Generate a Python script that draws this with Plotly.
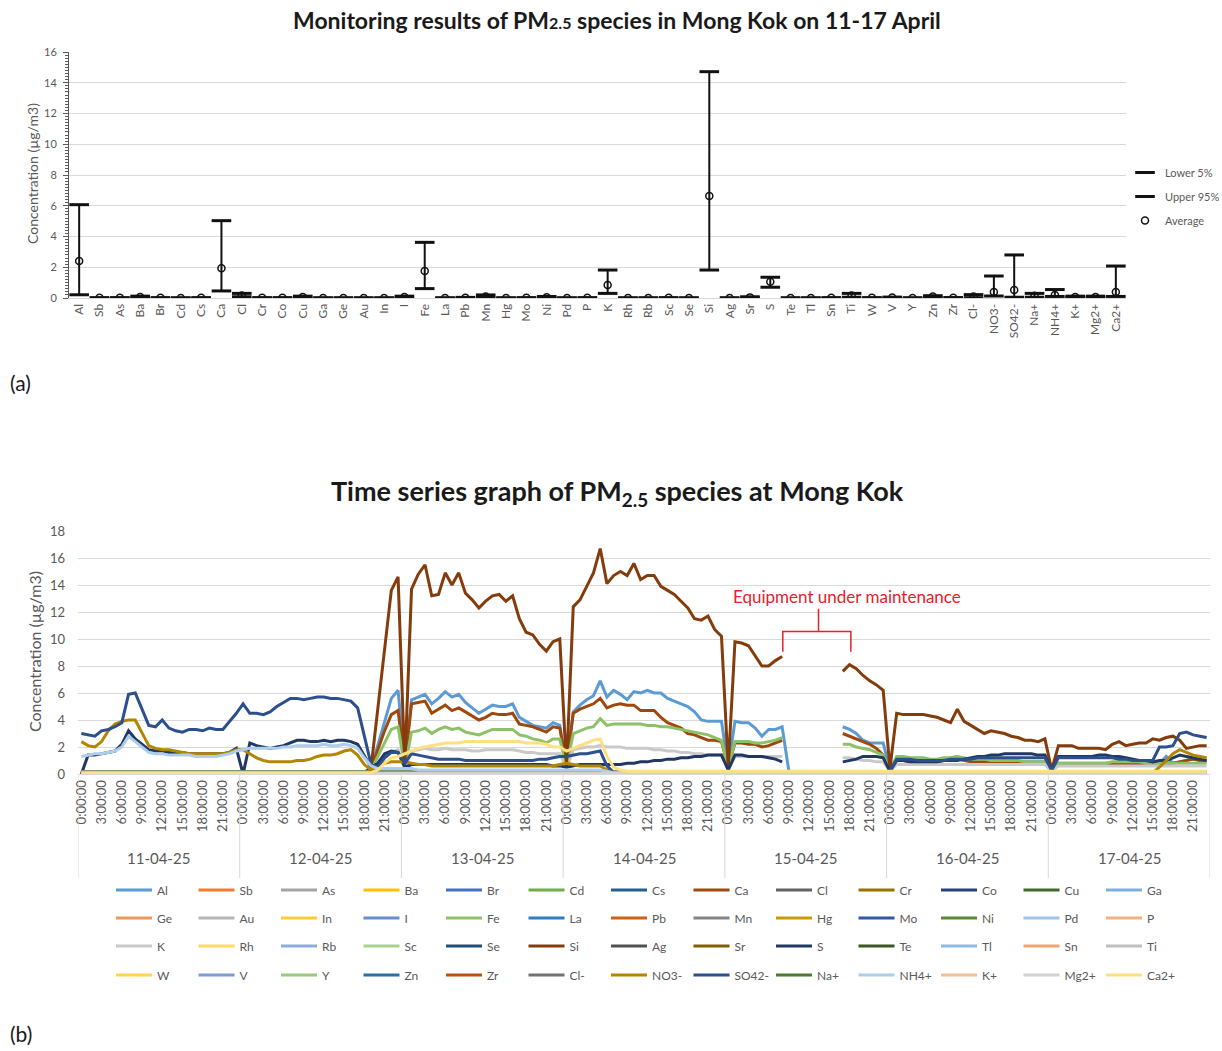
import plotly.graph_objects as go

# ---------------------------------------------------------------------------
# (a) Monitoring results: lower 5 %, upper 95 % and average per species
# ---------------------------------------------------------------------------
SPECIES = ["Al", "Sb", "As", "Ba", "Br", "Cd", "Cs", "Ca", "Cl", "Cr", "Co", "Cu", "Ga",
           "Ge", "Au", "In", "I", "Fe", "La", "Pb", "Mn", "Hg", "Mo", "Ni", "Pd", "P",
           "K", "Rh", "Rb", "Sc", "Se", "Si", "Ag", "Sr", "S", "Te", "Tl", "Sn", "Ti",
           "W", "V", "Y", "Zn", "Zr", "Cl-", "NO3-", "SO42-", "Na+", "NH4+", "K+", "Mg2+", "Ca2+"]

LOWER_5 = [0.21, 0.0, 0.0, 0.03, 0.0, 0.0, 0.0, 0.46, 0.08, 0.0, 0.0, 0.02, 0.0,
           0.0, 0.0, 0.0, 0.02, 0.61, 0.0, 0.0, 0.04, 0.0, 0.0, 0.02, 0.0, 0.0,
           0.30, 0.0, 0.0, 0.0, 0.0, 1.82, 0.0, 0.01, 0.70, 0.0, 0.0, 0.0, 0.05,
           0.0, 0.01, 0.0, 0.04, 0.0, 0.02, 0.13, 0.05, 0.05, 0.10, 0.03, 0.03, 0.10]

UPPER_95 = [6.07, 0.02, 0.02, 0.12, 0.02, 0.01, 0.02, 5.03, 0.30, 0.02, 0.02, 0.12, 0.01,
            0.01, 0.01, 0.01, 0.12, 3.62, 0.01, 0.04, 0.20, 0.01, 0.02, 0.10, 0.01, 0.02,
            1.82, 0.01, 0.01, 0.02, 0.01, 14.72, 0.01, 0.08, 1.35, 0.01, 0.01, 0.02, 0.30,
            0.02, 0.06, 0.01, 0.15, 0.03, 0.22, 1.43, 2.80, 0.30, 0.55, 0.12, 0.12, 2.08]

AVERAGE = [2.40, 0.01, 0.01, 0.06, 0.01, 0.0, 0.01, 1.93, 0.17, 0.01, 0.01, 0.06, 0.0,
           0.0, 0.0, 0.0, 0.06, 1.76, 0.0, 0.02, 0.10, 0.0, 0.01, 0.05, 0.0, 0.01,
           0.85, 0.0, 0.0, 0.01, 0.0, 6.63, 0.0, 0.04, 1.06, 0.0, 0.0, 0.01, 0.17,
           0.01, 0.03, 0.0, 0.09, 0.01, 0.10, 0.39, 0.52, 0.15, 0.20, 0.06, 0.06, 0.39]

# ---------------------------------------------------------------------------
# (b) Hourly time series, 11-04-25 0:00 to 17-04-25 23:00 (168 hours)
# ---------------------------------------------------------------------------
DAYS = ["11-04-25", "12-04-25", "13-04-25", "14-04-25", "15-04-25", "16-04-25", "17-04-25"]
HOUR_TICKS = ["0:00:00", "3:00:00", "6:00:00", "9:00:00",
              "12:00:00", "15:00:00", "18:00:00", "21:00:00"]

SI = ([0.1] * 24 +
      [0.1] * 19 + [0.5, 4.8, 9.2, 13.6, 14.6] +
      [0.6, 13.7, 14.8, 15.5, 13.2, 13.3, 14.9, 14.0, 14.9, 13.4, 12.9, 12.3,
       12.8, 13.2, 13.3, 12.8, 13.2, 11.5, 10.5, 10.3, 9.6, 9.1, 9.8, 10.0] +
      [0.5, 12.4, 12.9, 13.9, 14.9, 16.7, 14.1, 14.7, 15.0, 14.7, 15.6, 14.4,
       14.7, 14.7, 13.9, 13.6, 13.3, 12.8, 12.3, 11.5, 11.4, 11.7, 10.7, 10.2] +
      [0.5, 9.8, 9.7, 9.5, 8.7, 8.0, 8.0, 8.4, 8.7] + [None] * 8 +
      [7.6, 8.1, 7.8, 7.3, 6.9, 6.6, 6.2] +
      [0.4, 4.5, 4.4, 4.4, 4.4, 4.4, 4.3, 4.2, 4.0, 3.8, 4.8, 3.9,
       3.6, 3.3, 3.0, 3.2, 3.1, 3.0, 2.8, 2.7, 2.5, 2.5, 2.4, 2.6] +
      [0.3, 2.1, 2.1, 2.1, 1.9, 1.9, 1.9, 1.9, 1.8, 2.2, 2.4, 2.1,
       2.2, 2.3, 2.3, 2.6, 2.5, 2.7, 2.8, 2.5, 1.9, 2.0, 2.1, 2.1])

AL = ([0.1] * 24 +
      [0.1] * 19 + [0.4, 2.2, 4.0, 5.6, 6.2] +
      [0.8, 5.5, 5.7, 5.9, 5.2, 5.6, 6.1, 5.7, 5.9, 5.3, 4.9, 4.5,
       4.8, 5.1, 5.0, 5.0, 5.2, 4.2, 3.9, 3.6, 3.5, 3.4, 3.8, 3.6] +
      [0.6, 4.6, 5.1, 5.5, 5.8, 6.9, 5.7, 6.2, 5.9, 5.5, 6.1, 6.0,
       6.2, 6.0, 6.0, 5.6, 5.4, 5.2, 5.0, 4.6, 4.0, 3.9, 3.9, 3.9] +
      [0.5, 3.9, 3.8, 3.8, 3.4, 2.8, 3.3, 3.3, 3.5, 0.2] + [None] * 7 +
      [3.5, 3.3, 3.0, 2.5, 2.3, 2.3, 2.3] +
      [0.3, 1.2, 1.2, 1.1, 1.1, 1.0, 1.0, 1.0, 1.1, 1.2, 1.3, 1.1,
       1.0, 1.0, 1.0, 1.0, 1.0, 1.0, 0.9, 0.9, 0.9, 0.9, 0.9, 0.9] +
      [0.2, 0.8, 0.8, 0.8, 0.8, 0.8, 0.8, 0.8, 0.8, 0.8, 0.8, 0.8,
       0.7, 0.7, 0.7, 0.7, 0.8, 1.3, 0.8, 0.9, 1.0, 1.1, 1.0, 0.9])

CA = ([0.1] * 24 +
      [0.1] * 19 + [0.4, 1.8, 3.2, 4.4, 4.7] +
      [0.7, 5.2, 5.3, 5.4, 4.5, 4.8, 5.1, 4.7, 4.9, 4.6, 4.3, 4.0,
       4.2, 4.5, 4.4, 4.4, 4.5, 3.7, 3.6, 3.5, 3.3, 3.1, 3.5, 3.4] +
      [0.6, 4.5, 4.8, 5.0, 5.2, 5.6, 4.9, 5.1, 5.2, 5.1, 5.1, 4.7,
       4.7, 4.7, 4.2, 3.8, 3.6, 3.4, 3.0, 2.9, 2.7, 2.5, 2.5, 2.4] +
      [0.5, 2.3, 2.3, 2.2, 2.2, 2.0, 2.1, 2.3, 2.5] + [None] * 8 +
      [3.0, 2.8, 2.6, 2.4, 2.2, 1.9, 1.4] +
      [0.3, 1.0, 1.0, 0.9, 0.9, 0.9, 0.9, 0.9, 1.0, 1.0, 1.1, 1.0,
       0.9, 0.9, 0.9, 0.8, 0.8, 0.8, 0.8, 0.8, 0.8, 0.8, 0.8, 0.8] +
      [0.2] + [0.7] * 16 + [0.8, 0.8, 0.9, 1.0, 1.1, 1.0, 1.0])

FE = ([0.1] * 24 +
      [0.1] * 19 + [0.3, 1.3, 2.4, 3.3, 3.5] +
      [0.5, 3.1, 3.2, 3.4, 3.0, 3.3, 3.5, 3.3, 3.4, 3.1, 3.0, 2.9,
       3.1, 3.3, 3.3, 3.3, 3.3, 2.9, 2.8, 2.6, 2.5, 2.3, 2.6, 2.6] +
      [0.5, 3.0, 3.2, 3.4, 3.5, 4.1, 3.6, 3.7, 3.7, 3.7, 3.7, 3.7,
       3.6, 3.6, 3.5, 3.5, 3.4, 3.3, 3.2, 3.1, 3.0, 2.9, 2.7, 2.5] +
      [0.5, 2.4, 2.4, 2.4, 2.3, 2.3, 2.4, 2.5, 2.7] + [None] * 8 +
      [2.2, 2.2, 2.0, 1.9, 1.8, 1.6, 1.4] +
      [0.3, 1.3, 1.3, 1.2, 1.2, 1.2, 1.1, 1.1, 1.2, 1.2, 1.3, 1.2,
       1.1, 1.1, 1.1, 1.0, 1.0, 1.0, 1.0, 1.0, 0.9, 0.9, 0.9, 0.9] +
      [0.2] + [0.8] * 8 + [0.9] * 5 + [0.8] * 10)

K_EL = ([0.05] * 24 +
        [0.05] * 19 + [0.2, 0.7, 1.2, 1.6, 1.8] +
        [0.4, 1.7, 1.8, 1.9, 1.8, 1.8, 1.9, 1.8, 1.8, 1.8, 1.7, 1.7,
         1.8, 1.8, 1.8, 1.8, 1.8, 1.7, 1.6, 1.6, 1.5, 1.5, 1.5, 1.5] +
        [0.4, 1.8, 1.9, 2.0, 2.0, 2.1, 2.0, 2.0, 2.0, 1.9, 1.9, 1.9,
         1.9, 1.8, 1.8, 1.7, 1.7, 1.6, 1.6, 1.5, 1.5, 1.4, 1.4, 1.4] +
        [0.3] + [1.3] * 8 + [None] * 8 + [1.2, 1.2, 1.1, 1.0, 1.0, 0.9, 0.9] +
        [0.2] + [0.7] * 23 +
        [0.2] + [0.6] * 23)

S_EL = ([0.0, 1.4, 1.4, 1.5, 1.6, 1.7, 2.2, 3.2, 2.6, 2.2, 1.8, 1.7,
         1.7, 1.6, 1.6, 1.6, 1.5, 1.5, 1.5, 1.5, 1.5, 1.5, 1.6, 1.9] +
        [0.0, 2.3, 2.1, 2.0, 1.9, 2.0, 2.1, 2.3, 2.5, 2.5, 2.4, 2.4,
         2.5, 2.4, 2.5, 2.5, 2.4, 2.2, 1.4, 0.5, 0.8, 1.5, 1.7, 1.6] +
        [0.5] + [0.7] * 21 + [0.6, 0.6] +
        [0.5, 0.6, 0.7, 0.7, 0.7, 0.7, 0.7, 0.7, 0.7, 0.8, 0.8, 0.9,
         0.9, 1.0, 1.0, 1.1, 1.1, 1.2, 1.2, 1.3, 1.3, 1.4, 1.4, 1.4] +
        [0.3, 1.4, 1.4, 1.3, 1.3, 1.3, 1.2, 1.1, 0.9] + [None] * 8 +
        [0.9, 1.0, 1.1, 1.3, 1.3, 1.3, 1.2] +
        [0.2, 1.0, 1.0, 0.9, 0.9, 0.9, 0.9, 0.9, 1.0, 1.0, 1.0, 1.1,
         1.2, 1.3, 1.3, 1.4, 1.4, 1.5, 1.5, 1.5, 1.5, 1.5, 1.4, 1.4] +
        [0.3, 1.3, 1.3, 1.3, 1.3, 1.3, 1.3, 1.4, 1.4, 1.3, 1.3, 1.2,
         1.1, 1.0, 1.0, 0.9, 1.0, 1.0, 1.2, 1.4, 1.3, 1.2, 1.1, 1.0])

SO4 = ([3.0, 2.9, 2.8, 3.2, 3.3, 3.5, 3.8, 5.9, 6.0, 4.8, 3.6, 3.5,
        4.0, 3.4, 3.2, 3.1, 3.3, 3.3, 3.2, 3.4, 3.3, 3.3, 3.9, 4.5] +
       [5.2, 4.5, 4.5, 4.4, 4.6, 5.0, 5.3, 5.6, 5.6, 5.5, 5.6, 5.7,
        5.7, 5.6, 5.6, 5.5, 5.4, 4.9, 2.8, 0.7, 0.5, 1.2, 1.6, 1.6] +
       [0.8, 1.5, 1.4, 1.3, 1.2, 1.1, 1.1, 1.1, 1.1] + [1.0] * 11 + [1.1, 1.1, 1.2, 1.3] +
       [1.3, 1.4, 1.5, 1.5, 1.6, 1.7, 0.6] + [0.1] * 17 +
       [0.1] * 24 +
       [0.2, 1.1, 1.1, 1.1, 1.0, 1.0, 1.0, 1.0, 1.0, 1.1, 1.1, 1.1,
        1.1, 1.2, 1.2, 1.2, 1.2, 1.2, 1.2, 1.2, 1.2, 1.2, 1.2, 1.2] +
       [0.3, 1.2, 1.2, 1.2, 1.2, 1.2, 1.2, 1.2, 1.2, 1.2, 1.1, 1.1,
        1.0, 1.0, 1.0, 1.0, 2.0, 2.0, 2.1, 3.0, 3.1, 2.9, 2.8, 2.7])

NO3 = ([2.4, 2.1, 2.0, 2.4, 3.2, 3.7, 3.9, 4.0, 4.0, 3.0, 2.1, 1.9,
        1.8, 1.8, 1.7, 1.6, 1.5, 1.5, 1.5, 1.5, 1.5, 1.5, 1.6, 1.8] +
       [1.8, 1.5, 1.2, 1.0, 0.9, 0.9, 0.9, 0.9, 1.0, 1.0, 1.1, 1.3,
        1.4, 1.4, 1.5, 1.7, 1.8, 1.4, 0.7, 0.3, 0.5, 0.8, 0.9, 0.9] +
       [0.9, 0.8, 0.7, 0.7] + [0.6] * 19 + [0.7] +
       [0.8, 0.7, 0.6, 0.6, 0.6, 0.6, 0.3] + [0.1] * 17 +
       [0.1] * 24 +
       [0.1] * 24 +
       [0.1] * 16 + [0.5, 1.0, 1.5, 1.8, 1.6, 1.4, 1.3, 1.2])

NH4 = ([1.3, 1.4, 1.5, 1.5, 1.6, 1.7, 2.0, 2.8, 2.4, 2.0, 1.6, 1.5,
        1.5, 1.4, 1.4, 1.4, 1.4, 1.3, 1.3, 1.3, 1.3, 1.4, 1.5, 1.7] +
       [1.8, 1.9, 1.9, 1.9, 1.9, 1.9, 2.0, 2.0, 2.1, 2.1, 2.1, 2.1,
        2.2, 2.1, 2.1, 2.2, 2.1, 1.9, 1.2, 0.6, 0.4, 0.4, 0.4, 0.4] +
       [0.4, 0.4] + [0.3] * 22 +
       [0.3] * 6 + [0.2] + [0.1] * 17 +
       [0.1] * 24 + [0.1] * 24 + [0.1] * 24)

CA2 = ([0.1] * 24 +
       [0.1] * 20 + [0.3, 0.8, 1.2, 1.3] +
       [1.5, 1.7, 1.9, 2.0, 2.1, 2.2, 2.3, 2.3, 2.3, 2.4, 2.4, 2.4,
        2.4, 2.4, 2.4, 2.4, 2.4, 2.4, 2.3, 2.3, 2.3, 2.2, 2.0, 2.0] +
       [1.7, 1.9, 2.1, 2.3, 2.5, 2.6, 1.3, 0.5, 0.3] + [0.2] * 15 +
       [0.2] * 24 + [0.2] * 24 + [0.2] * 24)

# Species that stay close to zero for the whole week: name and flat level (ug/m3)
TRACE_SPECIES = ["Sb", "As", "Ba", "Br", "Cd", "Cs", "Cl", "Cr", "Co", "Cu", "Ga", "Ge",
                 "Au", "In", "I", "La", "Pb", "Mn", "Hg", "Mo", "Ni", "Pd", "P", "Rh",
                 "Rb", "Sc", "Se", "Ag", "Sr", "Te", "Tl", "Sn", "Ti", "W", "V", "Y",
                 "Zn", "Zr", "Cl-", "Na+", "K+", "Mg2+"]
TRACE_LEVEL = [0.02, 0.02, 0.06, 0.02, 0.01, 0.01, 0.17, 0.02, 0.02, 0.06, 0.01, 0.01,
               0.01, 0.01, 0.06, 0.01, 0.02, 0.10, 0.01, 0.02, 0.05, 0.01, 0.02, 0.01,
               0.01, 0.02, 0.01, 0.01, 0.04, 0.01, 0.01, 0.02, 0.17, 0.02, 0.03, 0.01,
               0.09, 0.02, 0.10, 0.15, 0.06, 0.06]
ION_SPECIES = ["Cl-", "NO3-", "SO42-", "Na+", "NH4+", "K+", "Mg2+", "Ca2+"]
MAINTENANCE_HOURS = list(range(105, 113))   # no element data during maintenance

# Office-style series palette, in legend order
SERIES_COLORS = ["#5B9BD5", "#ED7D31", "#A5A5A5", "#FFC000", "#4472C4", "#70AD47",
                 "#255E91", "#9E480E", "#636363", "#997300", "#264478", "#43682B",
                 "#7CAFDD", "#F1975A", "#B7B7B7", "#FFCD33", "#698ED0", "#8CC168",
                 "#327DC2", "#D26012", "#848484", "#CC9A00", "#335AA1", "#5A8A39",
                 "#9DC3E6", "#F4B183", "#C9C9C9", "#FFD966", "#8FAADC", "#A9D18E",
                 "#1F4E79", "#843C0C", "#525252", "#7F6000", "#203864", "#385723",
                 "#8CBAE2", "#F2A46F", "#C0C0C0", "#FFD34D", "#7C9CD6", "#9AC97B",
                 "#2B6EA9", "#B85410", "#737373", "#B38600", "#2C4F8D", "#4F7932",
                 "#ADCDEA", "#F6BE98", "#D2D2D2", "#FFDF80"]

HOURS = list(range(168))
MAIN_SERIES = {"Al": AL, "Ca": CA, "Fe": FE, "K": K_EL, "Si": SI, "S": S_EL,
               "NO3-": NO3, "SO42-": SO4, "NH4+": NH4, "Ca2+": CA2}
for _name, _vals in MAIN_SERIES.items():
    assert len(_vals) == 168, (_name, len(_vals))


def series_for(name):
    if name in MAIN_SERIES:
        return MAIN_SERIES[name]
    level = TRACE_LEVEL[TRACE_SPECIES.index(name)]
    is_ion = name in ION_SPECIES
    return [None if (h in MAINTENANCE_HOURS and not is_ion) else level for h in HOURS]


# ---------------------------------------------------------------------------
# Page geometry helpers (figure is laid out in pixels of a 1222 x 1051 page)
# ---------------------------------------------------------------------------
W, H = 1222, 1051


def fx(px):
    return px / W


def fy(py):
    return 1 - py / H


FONT = "Lato, 'Open Sans', Arial, sans-serif"
GREY = "#595959"
GRID = "#D9D9D9"

fig = go.Figure()

# ---- chart (a) ----
fig.add_trace(go.Scatter(
    x=SPECIES, y=LOWER_5, mode="markers", name="Lower 5%",
    marker=dict(symbol="line-ew", size=14, color="#111111",
                line=dict(width=3, color="#111111")),
    xaxis="x", yaxis="y", legend="legend2", legendgroup="lower"))
fig.add_trace(go.Scatter(
    x=SPECIES, y=UPPER_95, mode="markers", name="Upper 95%",
    marker=dict(symbol="line-ew", size=14, color="#111111",
                line=dict(width=3, color="#111111")),
    xaxis="x", yaxis="y", legend="legend2", legendgroup="upper"))
fig.add_trace(go.Scatter(
    x=SPECIES, y=AVERAGE, mode="markers", name="Average",
    marker=dict(symbol="circle-open", size=7, color="#111111",
                line=dict(width=1.5, color="#111111")),
    error_y=dict(type="data", symmetric=False,
                 array=[u - a for u, a in zip(UPPER_95, AVERAGE)],
                 arrayminus=[a - lo for a, lo in zip(AVERAGE, LOWER_5)],
                 thickness=2, width=0, color="#111111"),
    xaxis="x", yaxis="y", legend="legend2", legendgroup="avg"))

# ---- chart (b) ----
ROW_LEGENDS = ["legend", "legend3", "legend4", "legend5"]
for i, name in enumerate(SPECIES):
    fig.add_trace(go.Scatter(
        x=HOURS, y=series_for(name), mode="lines", name=name,
        line=dict(color=SERIES_COLORS[i], width=3),
        xaxis="x2", yaxis="y2", legend=ROW_LEGENDS[i // 13]))

tick_vals = [d * 24 + h for d in range(7) for h in range(0, 24, 3)]
tick_text = HOUR_TICKS * 7

shapes = []
annotations = []

# day dividers beneath the time axis
for d in range(8):
    shapes.append(dict(type="line", xref="x2", yref="paper",
                       x0=d * 24 - 0.5, x1=d * 24 - 0.5, y0=fy(774), y1=fy(878),
                       line=dict(color=GRID, width=1)))
for d, day in enumerate(DAYS):
    annotations.append(dict(xref="x2", yref="paper", x=d * 24 + 11.5, y=fy(858),
                            xanchor="center", yanchor="middle",
                            text=day, showarrow=False,
                            font=dict(family=FONT, size=15, color=GREY)))

# maintenance bracket
shapes.append(dict(type="path", xref="x2", yref="y2",
                   path="M 104.1,9.05 L 104.1,10.55 L 114.2,10.55 L 114.2,9.05 "
                        "M 109.4,10.55 L 109.4,12.25",
                   line=dict(color="#E8202A", width=1.5)))
annotations.append(dict(xref="x2", yref="y2", x=113.6, y=13.15,
                        xanchor="center", yanchor="middle",
                        text="Equipment under maintenance", showarrow=False,
                        font=dict(family=FONT, size=17, color="#E8202A")))

# titles and panel labels
annotations += [
    dict(xref="paper", yref="paper", x=fx(617), y=fy(20),
         xanchor="center", yanchor="middle",
         text="<b>Monitoring results of PM<span style='font-size:16px'>2.5</span> "
              "species in Mong Kok on 11-17 April</b>",
         showarrow=False, font=dict(family=FONT, size=23, color="#1a1a1a")),
    dict(xref="paper", yref="paper", x=fx(617), y=fy(492),
         xanchor="center", yanchor="middle",
         text="<b>Time series graph of PM<sub>2.5</sub> species at Mong Kok</b>",
         showarrow=False, font=dict(family=FONT, size=27, color="#1a1a1a")),
    dict(xref="paper", yref="paper", x=fx(8), y=fy(383),
         xanchor="left", yanchor="middle",
         text="(a)", showarrow=False, font=dict(family=FONT, size=21, color="#1a1a1a")),
    dict(xref="paper", yref="paper", x=fx(8), y=fy(1033),
         xanchor="left", yanchor="middle",
         text="(b)", showarrow=False, font=dict(family=FONT, size=21, color="#1a1a1a")),
    dict(xref="paper", yref="paper", x=fx(33), y=fy(174), textangle=-90,
         xanchor="center", yanchor="middle",
         text="Concentration (µg/m3)", showarrow=False,
         font=dict(family=FONT, size=14, color=GREY)),
    dict(xref="paper", yref="paper", x=fx(34), y=fy(652), textangle=-90,
         xanchor="center", yanchor="middle",
         text="Concentration (µg/m3)", showarrow=False,
         font=dict(family=FONT, size=16, color=GREY)),
]

legend_common = dict(orientation="h", xanchor="left", yanchor="middle",
                     x=fx(111), entrywidth=31.5, entrywidthmode="pixels",
                     itemwidth=36, bgcolor="rgba(0,0,0,0)",
                     font=dict(family=FONT, size=12, color=GREY))
ROW_Y = [890, 918, 946, 975]

layout_legends = {}
for r, key in enumerate(ROW_LEGENDS):
    layout_legends[key] = dict(legend_common, y=fy(ROW_Y[r]))

fig.update_layout(
    width=W, height=H,
    margin=dict(l=0, r=0, t=0, b=0, autoexpand=False),
    paper_bgcolor="white", plot_bgcolor="white",
    font=dict(family=FONT, color=GREY),
    showlegend=True,
    xaxis=dict(domain=[fx(69), fx(1126)], anchor="y", type="category",
               range=[-0.5, len(SPECIES) - 0.5], tickangle=-90,
               tickfont=dict(family=FONT, size=12, color=GREY),
               showgrid=False, showline=True, linecolor=GRID, ticks=""),
    yaxis=dict(domain=[fy(298), fy(52)], anchor="x", range=[0, 16], dtick=2,
               gridcolor=GRID, zeroline=False, showline=True, linecolor=GREY,
               ticks="outside", ticklen=5, tickcolor=GREY, ticklabelstandoff=4,
               minor=dict(dtick=0.2, ticks="outside", ticklen=3, tickcolor=GREY,
                          showgrid=False),
               tickfont=dict(family=FONT, size=11, color=GREY)),
    xaxis2=dict(domain=[fx(78), fx(1210)], anchor="y2", range=[-0.5, 167.5],
                tickmode="array", tickvals=tick_vals, ticktext=tick_text,
                tickangle=-90, tickfont=dict(family=FONT, size=13, color=GREY),
                showgrid=False, showline=True, linecolor=GRID, ticks="",
                zeroline=False),
    yaxis2=dict(domain=[fy(774), fy(531)], anchor="x2", range=[0, 18], dtick=2,
                gridcolor=GRID, zeroline=False, showline=False, ticks="",
                ticklabelstandoff=12,
                tickfont=dict(family=FONT, size=13, color=GREY)),
    legend2=dict(x=fx(1125), y=fy(158), xanchor="left", yanchor="top",
                 orientation="v", tracegroupgap=5, bgcolor="rgba(0,0,0,0)",
                 font=dict(family=FONT, size=11, color=GREY)),
    shapes=shapes,
    annotations=annotations,
    **layout_legends,
)

fig.write_html("out.html")
